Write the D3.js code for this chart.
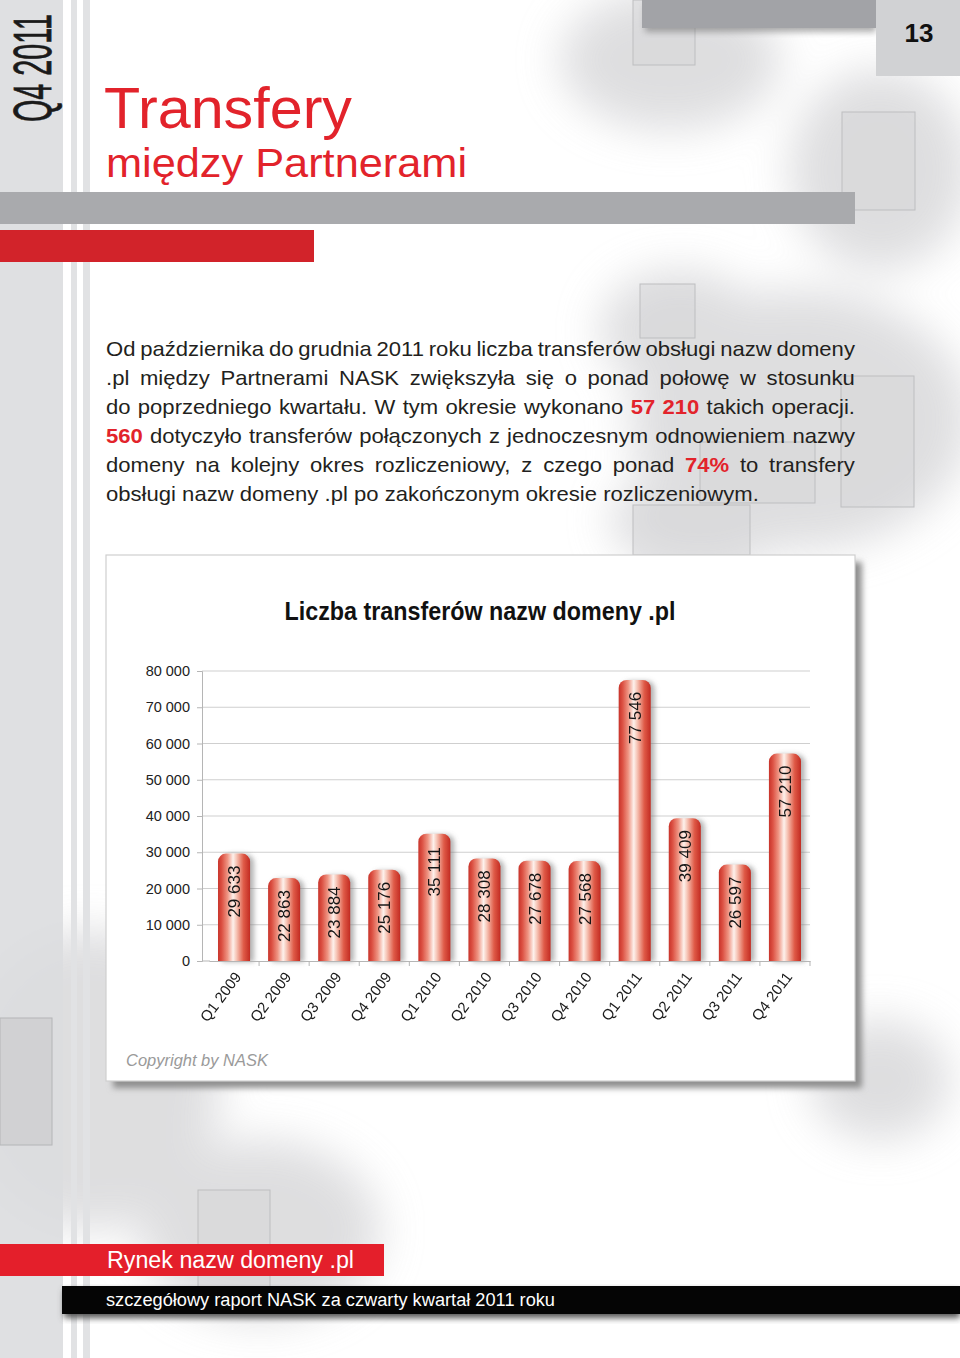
<!DOCTYPE html>
<html><head><meta charset="utf-8">
<script src="https://cdn.jsdelivr.net/npm/d3@7"></script>
<style>body{margin:0;background:#fff}svg{display:block}</style>
</head><body>
<script>
// ---- data ----
const categories = ["Q1 2009","Q2 2009","Q3 2009","Q4 2009","Q1 2010","Q2 2010","Q3 2010","Q4 2010","Q1 2011","Q2 2011","Q3 2011","Q4 2011"];
const values = [29633, 22863, 23884, 25176, 35111, 28308, 27678, 27568, 77546, 39409, 26597, 57210];
const yTicks = [0, 10000, 20000, 30000, 40000, 50000, 60000, 70000, 80000];
const chartTitle = "Liczba transferów nazw domeny .pl";
const paragraph = [
  [["Od października do grudnia 2011 roku liczba transferów obsługi nazw domeny", false]],
  [[".pl między Partnerami NASK zwiększyła się o ponad połowę w stosunku", false]],
  [["do poprzedniego kwartału. W tym okresie wykonano", false], ["57 210", true], ["takich operacji.", false]],
  [["560", true], ["dotyczyło transferów połączonych z jednoczesnym odnowieniem nazwy", false]],
  [["domeny na kolejny okres rozliczeniowy, z czego ponad", false], ["74%", true], ["to transfery", false]],
  [["obsługi nazw domeny .pl po zakończonym okresie rozliczeniowym.", false]]
];

const W = 960, H = 1358;
const NARROW = "'Liberation Sans Narrow','Arial Narrow','Liberation Sans',Arial,sans-serif";
const SANS = "'Liberation Sans',Arial,Helvetica,sans-serif";
const RED = "#e2232b";

const svg = d3.select("body").append("svg").attr("width", W).attr("height", H);
const defs = svg.append("defs");
defs.append("filter").attr("id","cloud").attr("x","-50%").attr("y","-50%").attr("width","200%").attr("height","200%")
  .append("feGaussianBlur").attr("stdDeviation", 22);
defs.append("filter").attr("id","soft").attr("x","-20%").attr("y","-20%").attr("width","140%").attr("height","140%")
  .append("feGaussianBlur").attr("stdDeviation", 3);
defs.append("filter").attr("id","barsh").attr("x","-50%").attr("y","-20%").attr("width","200%").attr("height","140%")
  .append("feGaussianBlur").attr("stdDeviation", 2.5);
const grad = defs.append("linearGradient").attr("id","cyl").attr("x1","0").attr("x2","1").attr("y1","0").attr("y2","0");
[[0,"#c8332a"],[0.12,"#dc5143"],[0.3,"#ef9684"],[0.47,"#fdf1ec"],[0.58,"#f6c3b4"],[0.8,"#df5a47"],[1,"#c22b22"]]
  .forEach(([o,c]) => grad.append("stop").attr("offset", o).attr("stop-color", c));

// ---- background ----
svg.append("rect").attr("width",W).attr("height",H).attr("fill","#fff");
const clouds = svg.append("g").attr("filter","url(#cloud)").attr("opacity",0.8);
[[670,60,110,70],[880,170,90,100],[800,420,170,130],[680,330,80,60],[700,520,90,50],[90,1080,130,150],[260,1230,120,90],[880,1080,70,60]]
  .forEach(([cx,cy,rx,ry]) => clouds.append("ellipse").attr("cx",cx).attr("cy",cy).attr("rx",rx).attr("ry",ry).attr("fill","#d6d6d8"));
const sq = svg.append("g");
[[633,0,62,65],[842,112,73,98],[640,284,55,54],[841,376,73,131],[700,442,115,61],[633,505,117,50],[0,1018,52,127],[198,1190,72,100]]
  .forEach(([x,y,w,h]) => sq.append("rect").attr("x",x).attr("y",y).attr("width",w).attr("height",h)
    .attr("fill","#d4d5d7").attr("fill-opacity",0.45).attr("stroke","#bdbec0").attr("stroke-width",1));

// left strips
svg.append("rect").attr("x",0).attr("y",0).attr("width",63).attr("height",H).attr("fill","#dcdddf").attr("fill-opacity",0.9);
svg.append("rect").attr("x",71).attr("y",0).attr("width",6).attr("height",H).attr("fill","#e1e2e4");
svg.append("rect").attr("x",83).attr("y",0).attr("width",7).attr("height",H).attr("fill","#e1e2e4");
svg.append("rect").attr("x",0).attr("y",1018).attr("width",52).attr("height",127)
  .attr("fill","#c9cacc").attr("fill-opacity",0.6).attr("stroke","#b5b6b8");

// top bars
svg.append("rect").attr("x",645).attr("y",4).attr("width",231).attr("height",28).attr("fill","#777").attr("filter","url(#soft)").attr("opacity",0.6);
svg.append("rect").attr("x",642).attr("y",0).attr("width",234).attr("height",28).attr("fill","#a2a3a7");
svg.append("rect").attr("x",876).attr("y",0).attr("width",84).attr("height",76).attr("fill","#d1d2d4");
svg.append("text").attr("x",919).attr("y",42).attr("text-anchor","middle").attr("font-family",NARROW)
  .attr("font-weight","bold").attr("font-size",26).attr("fill","#111").text("13");

// vertical side label (small font, stretched across the strip)
svg.append("text").attr("transform","translate(51,122) rotate(-90) scale(1,2.0)").attr("font-family",NARROW)
  .attr("font-size",27).attr("fill","#1a1a1a").attr("stroke","#1a1a1a").attr("stroke-width",0.4)
  .attr("textLength",108).attr("lengthAdjust","spacingAndGlyphs").text("Q4 2011");

// title
svg.append("text").attr("x",104).attr("y",128).attr("font-family",SANS).attr("font-size",58).attr("fill",RED)
  .attr("textLength",248).attr("lengthAdjust","spacingAndGlyphs").text("Transfery");
svg.append("text").attr("x",106).attr("y",177).attr("font-family",SANS).attr("font-size",40).attr("fill",RED)
  .attr("textLength",361).attr("lengthAdjust","spacingAndGlyphs").text("między Partnerami");

svg.append("rect").attr("x",0).attr("y",192).attr("width",855).attr("height",32).attr("fill","#a9aaad");
svg.append("rect").attr("x",0).attr("y",230).attr("width",314).attr("height",32).attr("fill","#d2232a");

// ---- paragraph (justified) ----
const PF = 20, lineH = 29, base0 = 356, pLeft = 106, pWidth = 749, lastWidth = 653;
const tmpA = svg.append("text").attr("font-family",NARROW).attr("font-size",PF).text("n n");
const tmpB = svg.append("text").attr("font-family",NARROW).attr("font-size",PF).text("nn");
const spaceW = tmpA.node().getComputedTextLength() - tmpB.node().getComputedTextLength();
tmpA.remove(); tmpB.remove();
const lineGroups = paragraph.map((segs, i) => {
  const words = [];
  segs.forEach(([t, red]) => t.split(" ").filter(s => s.length).forEach(w => words.push({w, red})));
  const g = svg.append("g");
  const nodes = words.map(d => g.append("text").attr("font-family",NARROW).attr("font-size",PF)
    .attr("fill", d.red ? RED : "#231f20").attr("font-weight", d.red ? "bold" : "normal").text(d.w));
  const widths = nodes.map(n => n.node().getComputedTextLength());
  return {g, nodes, widths, i};
});
const last = lineGroups[lineGroups.length-1];
const natLast = d3.sum(last.widths) + spaceW * (last.widths.length - 1);
const sx = lastWidth / natLast;
lineGroups.forEach(({g, nodes, widths, i}) => {
  const isLast = i === lineGroups.length - 1;
  const gap = isLast ? spaceW : (pWidth / sx - d3.sum(widths)) / (widths.length - 1);
  let x = 0;
  nodes.forEach((n, k) => { n.attr("x", x); x += widths[k] + gap; });
  g.attr("transform", `translate(${pLeft},${base0 + i*lineH}) scale(${sx},1)`);
});

// ---- chart box ----
svg.append("rect").attr("x",113).attr("y",562).attr("width",749).attr("height",526).attr("fill","#8f8f8f").attr("filter","url(#soft)");
svg.append("rect").attr("x",106).attr("y",555).attr("width",749).attr("height",526).attr("fill","#fff").attr("stroke","#cfcfcf").attr("stroke-width",1.2);

svg.append("text").attr("x",480).attr("y",620).attr("text-anchor","middle").attr("font-family",NARROW)
  .attr("font-weight","bold").attr("font-size",25).attr("fill","#111")
  .attr("textLength",391).attr("lengthAdjust","spacingAndGlyphs").text(chartTitle);

const fmt = d3.formatLocale({decimal: ",", thousands: " ", grouping: [3], currency: ["", ""]}).format(",d");
const x = d3.scaleBand().domain(categories).range([209, 810]).padding(0);
const y = d3.scaleLinear().domain([0, 80000]).range([961, 671]);
const plot = svg.append("g");

// gridlines
plot.append("g").selectAll("line").data(yTicks.filter(d => d > 0)).join("line")
  .attr("x1",202).attr("x2",810).attr("y1",d => y(d)).attr("y2",d => y(d)).attr("stroke","#cfcfcf").attr("stroke-width",1);

// y axis
const yAxis = plot.append("g").attr("transform","translate(202,0)")
  .call(d3.axisLeft(y).tickValues(yTicks).tickFormat(fmt).tickSize(5).tickPadding(7));
yAxis.select(".domain").attr("stroke","#b5b5b5");
yAxis.selectAll(".tick line").attr("stroke","#b5b5b5");
yAxis.selectAll(".tick text").attr("font-family",SANS).attr("font-size",14.5).attr("fill","#222");

// bars
const bw = x.bandwidth() * 0.64;
const r = 8;
const barPath = (d, i) => {
  const cx = x(categories[i]) + x.bandwidth()/2, x0 = cx - bw/2, x1 = cx + bw/2, t = y(d), b = y(0);
  return `M${x0},${b}L${x0},${t+r}A${r},${r} 0 0 1 ${x0+r},${t}L${x1-r},${t}A${r},${r} 0 0 1 ${x1},${t+r}L${x1},${b}Z`;
};
plot.append("g").attr("filter","url(#barsh)").selectAll("path").data(values).join("path")
  .attr("d", barPath).attr("transform","translate(4,1)").attr("fill","#777").attr("opacity",0.55);
plot.append("g").selectAll("path").data(values).join("path")
  .attr("d", barPath).attr("fill","url(#cyl)");

// x axis
const xAxis = plot.append("g").attr("transform","translate(0,961)")
  .call(d3.axisBottom(x).tickSize(0).tickFormat(""));
xAxis.select(".domain").attr("stroke","#b5b5b5");
plot.append("line").attr("x1",202).attr("x2",210).attr("y1",961).attr("y2",961).attr("stroke","#b5b5b5");
plot.append("g").selectAll("line").data(categories).join("line")
  .attr("x1", d => x(d) + x.bandwidth()).attr("x2", d => x(d) + x.bandwidth())
  .attr("y1",961).attr("y2",966).attr("stroke","#b5b5b5");

// value labels
plot.append("g").selectAll("text").data(values).join("text")
  .attr("transform", (d,i) => `translate(${x(categories[i]) + x.bandwidth()/2 + 6},${y(d) + 38}) rotate(-90)`)
  .attr("text-anchor","middle").attr("font-family",SANS).attr("font-size",17).attr("fill","#151515")
  .text(d => fmt(d));

// category labels
plot.append("g").selectAll("text").data(categories).join("text")
  .attr("transform", d => `translate(${x(d) + x.bandwidth()/2 + 8},977) rotate(-53)`)
  .attr("text-anchor","end").attr("font-family",SANS).attr("font-size",15).attr("fill","#1a1a1a")
  .text(d => d);

svg.append("text").attr("x",126).attr("y",1066).attr("font-family",SANS).attr("font-style","italic")
  .attr("font-size",16).attr("fill","#9a9a9a").attr("textLength",142).attr("lengthAdjust","spacingAndGlyphs").text("Copyright by NASK");

// ---- footer ----
svg.append("rect").attr("x",0).attr("y",1244).attr("width",384).attr("height",32).attr("fill","#e41f2b");
svg.append("text").attr("x",107).attr("y",1268).attr("font-family",NARROW).attr("font-size",23).attr("fill","#fff")
  .attr("textLength",247).attr("lengthAdjust","spacingAndGlyphs").text("Rynek nazw domeny .pl");
svg.append("rect").attr("x",64).attr("y",1290).attr("width",896).attr("height",28).attr("fill","#555").attr("filter","url(#soft)");
svg.append("rect").attr("x",62).attr("y",1286).attr("width",898).attr("height",28).attr("fill","#050505");
svg.append("text").attr("x",106).attr("y",1306).attr("font-family",NARROW).attr("font-size",18).attr("fill","#fff")
  .attr("textLength",449).attr("lengthAdjust","spacingAndGlyphs").text("szczegółowy raport NASK za czwarty kwartał 2011 roku");
</script>
</body></html>
